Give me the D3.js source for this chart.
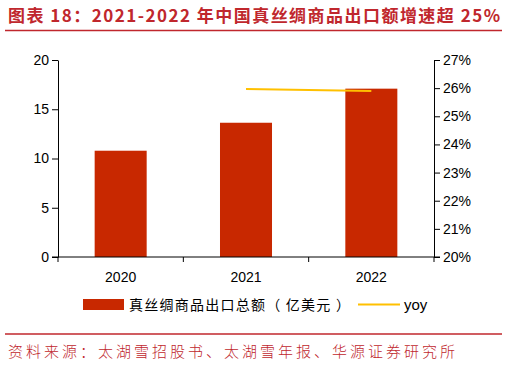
<!DOCTYPE html>
<html>
<head>
<meta charset="utf-8">
<script src="https://cdn.jsdelivr.net/npm/d3@7"></script>
<style>
  body { margin: 0; background: #fff; }
  svg { display: block; }
</style>
</head>
<body>
<script>
// dati
var years = ["2020", "2021", "2022"];
var exportValue = [10.79, 13.63, 17.09];   // 亿美元
var yoyYears = ["2021", "2022"];
var yoyValue = [0.2597, 0.2590];
var leftTicks = [0, 5, 10, 15, 20];
var rightTicks = [0.20, 0.21, 0.22, 0.23, 0.24, 0.25, 0.26, 0.27];

var W = 507, H = 366;
var red = "#C0272D";
var barColor = "#C82800";
var lineColor = "#FFC000";
var fontCN = "'Noto Sans CJK SC', sans-serif";
var fontNum = "'Liberation Sans', Arial, sans-serif";

var svg = d3.select("body").append("svg")
    .attr("width", W)
    .attr("height", H);

// titolo
svg.append("text")
    .attr("x", 8)
    .attr("y", 22)
    .attr("textLength", 492)
    .attr("lengthAdjust", "spacing")
    .attr("fill", red)
    .attr("font-family", fontCN)
    .attr("font-weight", "bold")
    .attr("font-size", 17)
    .text("图表 18：2021-2022 年中国真丝绸商品出口额增速超 25%");

svg.append("line")
    .attr("x1", 5).attr("x2", 502)
    .attr("y1", 30.5).attr("y2", 30.5)
    .attr("stroke", red)
    .attr("stroke-width", 1.5);

// area del grafico
var plotLeft = 58, plotRight = 434, plotTop = 60, plotBottom = 257;

var x = d3.scaleBand()
    .domain(years)
    .range([plotLeft, plotRight])
    .paddingInner(0.585)
    .paddingOuter(0.2925);

var xEdges = d3.scaleBand().domain(years).range([plotLeft, plotRight]);

var y = d3.scaleLinear().domain([0, 20]).range([plotBottom, plotTop]);
var y2 = d3.scaleLinear().domain([0.20, 0.27]).range([plotBottom, plotTop]);

// barre
svg.append("g").selectAll("rect")
    .data(years)
    .enter()
    .append("rect")
    .attr("x", function (d) { return x(d); })
    .attr("width", x.bandwidth())
    .attr("y", function (d, i) { return y(exportValue[i]); })
    .attr("height", function (d, i) { return plotBottom - y(exportValue[i]); })
    .attr("fill", barColor);

// linea yoy
var line = d3.line()
    .x(function (d, i) { return xEdges(yoyYears[i]) + xEdges.bandwidth() / 2; })
    .y(function (d) { return y2(d); });

svg.append("path")
    .datum(yoyValue)
    .attr("d", line)
    .attr("fill", "none")
    .attr("stroke", lineColor)
    .attr("stroke-width", 2);

// assi
function styleAxis(g) {
    g.selectAll("path, line").attr("stroke", "#000").attr("stroke-width", 1);
    g.selectAll("text")
        .attr("fill", "#000")
        .attr("font-family", fontNum)
        .attr("font-size", 14);
}

svg.append("g")
    .attr("transform", "translate(" + plotLeft + ",0)")
    .call(d3.axisLeft(y).tickValues(leftTicks).tickSize(6).tickSizeOuter(0).tickPadding(3))
    .call(styleAxis);

svg.append("g")
    .attr("transform", "translate(" + plotRight + ",0)")
    .call(d3.axisRight(y2).tickValues(rightTicks).tickSize(6).tickSizeOuter(0).tickPadding(3)
        .tickFormat(d3.format(".0%")))
    .call(styleAxis);

// asse x: tacche ai bordi delle categorie
var xAxis = svg.append("g")
    .attr("transform", "translate(0," + plotBottom + ")");
xAxis.append("line")
    .attr("x1", plotLeft - 6).attr("x2", plotRight + 6)
    .attr("stroke", "#000");
xAxis.selectAll("line.tk")
    .data(years.concat(["end"]))
    .enter()
    .append("line")
    .attr("class", "tk")
    .attr("x1", function (d, i) { return plotLeft + i * xEdges.step(); })
    .attr("x2", function (d, i) { return plotLeft + i * xEdges.step(); })
    .attr("y1", 0).attr("y2", 5)
    .attr("stroke", "#000");
xAxis.selectAll("text")
    .data(years)
    .enter()
    .append("text")
    .attr("x", function (d) { return xEdges(d) + xEdges.bandwidth() / 2; })
    .attr("y", 25)
    .attr("text-anchor", "middle")
    .attr("font-family", fontNum)
    .attr("font-size", 14)
    .attr("fill", "#000")
    .text(function (d) { return d; });

// legenda
var lg = svg.append("g");
lg.append("rect")
    .attr("x", 83).attr("y", 299)
    .attr("width", 41).attr("height", 11)
    .attr("fill", barColor);
lg.append("text")
    .attr("x", 129).attr("y", 310)
    .attr("textLength", 221)
    .attr("lengthAdjust", "spacing")
    .attr("font-family", fontCN)
    .attr("font-size", 14)
    .attr("fill", "#000")
    .text("真丝绸商品出口总额（ 亿美元 ）");
lg.append("line")
    .attr("x1", 358).attr("x2", 400)
    .attr("y1", 304.5).attr("y2", 304.5)
    .attr("stroke", lineColor)
    .attr("stroke-width", 2);
lg.append("text")
    .attr("x", 404).attr("y", 310)
    .attr("font-family", fontNum)
    .attr("font-size", 15)
    .attr("fill", "#000")
    .text("yoy");

// fonte
svg.append("line")
    .attr("x1", 5).attr("x2", 502)
    .attr("y1", 334).attr("y2", 334)
    .attr("stroke", red)
    .attr("stroke-width", 1.5);

svg.append("text")
    .attr("x", 8)
    .attr("y", 357)
    .attr("textLength", 447)
    .attr("lengthAdjust", "spacing")
    .attr("fill", red)
    .attr("font-family", fontCN)
    .attr("font-weight", 300)
    .attr("font-size", 15)
    .text("资料来源：太湖雪招股书、太湖雪年报、华源证券研究所");
</script>
</body>
</html>
